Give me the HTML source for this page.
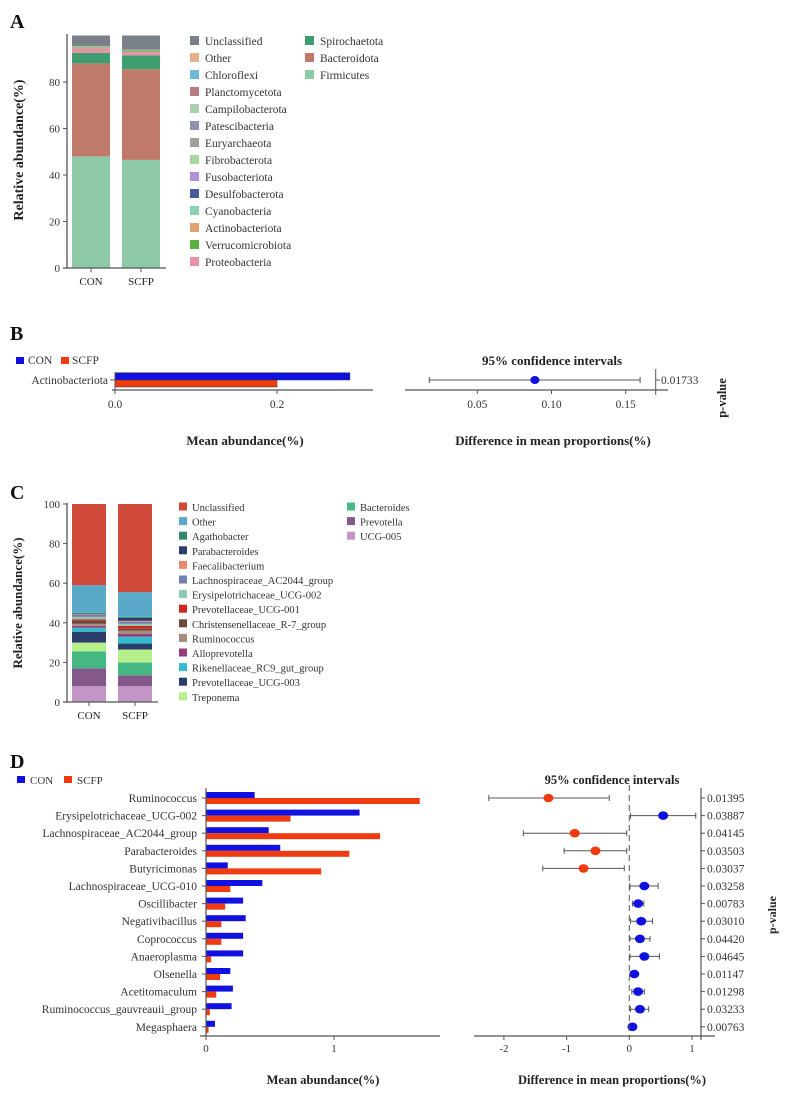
<!DOCTYPE html>
<html><head><meta charset="utf-8">
<style>
html,body{margin:0;padding:0;background:#fff;}
svg{display:block;font-family:"Liberation Serif",serif;}
</style></head>
<body>
<svg id="fig" width="787" height="1094" viewBox="0 0 787 1094" xmlns="http://www.w3.org/2000/svg"></svg>
<script>
// ---------- Panel A data ----------
const phylaNames = ["Firmicutes","Bacteroidota","Spirochaetota","Proteobacteria","Verrucomicrobiota","Euryarchaeota","Unclassified"];
const phylaColors = ["#8dc9a6","#c07a6a","#3e9e72","#e893a8","#6ab04c","#b0b8a8","#7a8088"];
const phylaCON = [48,40,4.5,2,0.3,0.7,4.5];
const phylaSCFP = [46.5,39,6,1.5,0.6,0.4,6];
const groupsA = ["CON","SCFP"];
const legendA1 = ["Unclassified","Other","Chloroflexi","Planctomycetota","Campilobacterota","Patescibacteria","Euryarchaeota","Fibrobacterota","Fusobacteriota","Desulfobacterota","Cyanobacteria","Actinobacteriota","Verrucomicrobiota","Proteobacteria"];
const legendA1Colors = ["#7a8088","#e8b088","#70b8d8","#b87a80","#a8d0b0","#9090b0","#a0a098","#a8d8a0","#b090d8","#4a5a98","#8dd0b0","#e0a070","#5ab040","#e893a8"];
const legendA2 = ["Spirochaetota","Bacteroidota","Firmicutes"];
const legendA2Colors = ["#3e9e72","#c07a6a","#8dc9a6"];
const ticksA = [0,20,40,60,80];

// ---------- Panel B data ----------
const phylumB = ["Actinobacteriota"];
const meanCONB = [0.29];
const meanSCFPB = [0.20];
const diffB = [0.0888];
const ciLowB = [0.0176];
const ciHighB = [0.1597];
const pB = ["0.01733"];
const ticksBL = [0.0,0.2];
const ticksBR = [0.05,0.10,0.15];

// ---------- Panel C data ----------
const genusNames = ["UCG-005","Prevotella","Bacteroides","Treponema","Prevotellaceae_UCG-003","Rikenellaceae_RC9_gut_group","Alloprevotella","Ruminococcus","Christensenellaceae_R-7_group","Prevotellaceae_UCG-001","Erysipelotrichaceae_UCG-002","Lachnospiraceae_AC2044_group","Faecalibacterium","Parabacteroides","Agathobacter","Other","Unclassified"];
const genusColors = ["#c394c6","#85588a","#45b883","#b5f08a","#2b3d6b","#33bccb","#953c7e","#a58b7b","#6a4a3a","#c8281e","#8ccab4","#7080b0","#e88a6a","#2a3f6e","#2f8a6a","#5aa9c9","#d04a3c"];
const genusCON = [8,9,8.5,4.5,5.5,2,1,1,1.5,0.8,1.2,1,0.3,0.3,0.4,14,41];
const genusSCFP = [8,5.5,6.5,6.5,3,3.5,1.5,1.5,1,1.5,1,1,0.5,1.5,0.5,12.5,44.5];
const legendC1 = ["Unclassified","Other","Agathobacter","Parabacteroides","Faecalibacterium","Lachnospiraceae_AC2044_group","Erysipelotrichaceae_UCG-002","Prevotellaceae_UCG-001","Christensenellaceae_R-7_group","Ruminococcus","Alloprevotella","Rikenellaceae_RC9_gut_group","Prevotellaceae_UCG-003","Treponema"];
const legendC2 = ["Bacteroides","Prevotella","UCG-005"];
const ticksC = [0,20,40,60,80,100];

// ---------- Panel D data ----------
const genusD = ["Ruminococcus","Erysipelotrichaceae_UCG-002","Lachnospiraceae_AC2044_group","Parabacteroides","Butyricimonas","Lachnospiraceae_UCG-010","Oscillibacter","Negativibacillus","Coprococcus","Anaeroplasma","Olsenella","Acetitomaculum","Ruminococcus_gauvreauii_group","Megasphaera"];
const meanCOND = [0.38,1.20,0.49,0.58,0.17,0.44,0.29,0.31,0.29,0.29,0.19,0.21,0.20,0.07];
const meanSCFPD = [1.67,0.66,1.36,1.12,0.90,0.19,0.15,0.12,0.12,0.04,0.11,0.08,0.03,0.02];
const diffD = [-1.29,0.54,-0.87,-0.54,-0.73,0.24,0.14,0.19,0.17,0.24,0.08,0.14,0.17,0.05];
const ciLowD = [-2.24,0.02,-1.69,-1.04,-1.38,0.01,0.05,0.02,0.01,0.01,0.02,0.04,0.02,0.00];
const ciHighD = [-0.32,1.06,-0.04,-0.04,-0.08,0.46,0.23,0.37,0.33,0.48,0.13,0.24,0.31,0.10];
const pD = ["0.01395","0.03887","0.04145","0.03503","0.03037","0.03258","0.00783","0.03010","0.04420","0.04645","0.01147","0.01298","0.03233","0.00763"];
const ticksDL = [0,1];
const ticksDR = [-2,-1,0,1];

const svg = document.getElementById('fig');
const NS = "http://www.w3.org/2000/svg";
function mk(tag, attrs, parent, text){
  const e = document.createElementNS(NS, tag);
  for (const k in attrs) e.setAttribute(k, attrs[k]);
  if (text !== undefined) e.textContent = text;
  (parent || svg).appendChild(e);
  return e;
}
function grp(name){
  const g = mk('g', {});
  
  
  return g;
}
const BLUE = "#1010e0", RED = "#f03a10", AX = "#555";

// Panel labels
[["A",10,28],["B",10,340],["C",10,499],["D",10,768]].forEach(([t,x,y])=>{
  const e = mk('text',{x:x,y:y,'font-size':20,'font-weight':'bold',fill:'#111'},svg,t);
  
  
});

// ================= Panel A =================
(function(){
  const g = grp('panel-a-stacked-bar');
  const y0 = 268, pxPer = 2.325;
  const yA = v => y0 - v*pxPer;
  const xs = [72,122], bw = 38;
  [phylaCON, phylaSCFP].forEach((vals, gi)=>{
    let acc = 0;
    vals.forEach((v,i)=>{
      const r = mk('rect',{x:xs[gi],y:yA(acc+v),width:bw,height:v*pxPer,fill:phylaColors[i]},g);
      
      
      acc += v;
    });
    const t = mk('text',{x:xs[gi]+bw/2,y:285,'font-size':11,'text-anchor':'middle',fill:'#222'},g,groupsA[gi]);
    
    
  });
  mk('line',{x1:67,y1:34,x2:67,y2:y0,stroke:AX,'stroke-width':1.3},g);
  mk('line',{x1:63,y1:y0,x2:166,y2:y0,stroke:AX,'stroke-width':1.3},g);
  ticksA.forEach(v=>{
    mk('line',{x1:63,y1:yA(v),x2:67,y2:yA(v),stroke:AX},g);
    const t = mk('text',{x:60,y:yA(v)+4,'font-size':11,'text-anchor':'end',fill:'#333'},g,v);
    
    
  });
  [91,141].forEach(x=>mk('line',{x1:x,y1:y0,x2:x,y2:y0+4,stroke:AX},g));
  const yt = mk('text',{x:0,y:0,'font-size':14,'font-weight':'bold','text-anchor':'middle',transform:'translate(23,150) rotate(-90)',fill:'#222'},g,'Relative abundance(%)');
  
  
  legendA1.forEach((n,i)=>{
    const y = 41 + i*17;
    const it = mk('g',{},g);
    
    
    mk('rect',{x:190,y:y-5,width:9,height:9,fill:legendA1Colors[i]},it);
    mk('text',{x:205,y:y+4,'font-size':11.5,fill:'#333'},it,n);
  });
  legendA2.forEach((n,i)=>{
    const y = 41 + i*17;
    const it = mk('g',{},g);
    
    
    mk('rect',{x:305,y:y-5,width:9,height:9,fill:legendA2Colors[i]},it);
    mk('text',{x:320,y:y+4,'font-size':11.5,fill:'#333'},it,n);
  });
})();

// ================= Panel B =================
(function(){
  const g = grp('panel-b-phylum-difference');
  const xL = v => 115 + v*810;
  const xR = v => 477.3 + (v-0.05)*1484;
  const leg = mk('g',{},g);
  
  
  mk('rect',{x:16,y:357,width:8,height:7,fill:BLUE},leg);
  mk('text',{x:28,y:364,'font-size':11.5,fill:'#333'},leg,'CON');
  mk('rect',{x:61,y:357,width:8,height:7,fill:RED},leg);
  mk('text',{x:72,y:364,'font-size':11.5,fill:'#333'},leg,'SCFP');
  phylumB.forEach((n,i)=>{
    const b1 = mk('rect',{x:xL(0),y:372.7,width:xL(meanCONB[i])-xL(0),height:7.3,fill:BLUE,stroke:'#333','stroke-width':0.5},g);
    
    
    const b2 = mk('rect',{x:xL(0),y:380,width:xL(meanSCFPB[i])-xL(0),height:7,fill:RED,stroke:'#333','stroke-width':0.5},g);
    
    
    mk('text',{x:108,y:384,'font-size':11.5,'text-anchor':'end',fill:'#333'},g,n);
    mk('line',{x1:110,y1:380,x2:115,y2:380,stroke:AX},g);
    mk('line',{x1:xR(ciLowB[i]),y1:380,x2:xR(ciHighB[i]),y2:380,stroke:'#555','stroke-width':1},g);
    mk('line',{x1:xR(ciLowB[i]),y1:377,x2:xR(ciLowB[i]),y2:383,stroke:'#555'},g);
    mk('line',{x1:xR(ciHighB[i]),y1:377,x2:xR(ciHighB[i]),y2:383,stroke:'#555'},g);
    const d = mk('ellipse',{cx:xR(diffB[i]),cy:380,rx:4.5,ry:4,fill:BLUE},g);
    
    
    mk('line',{x1:655.7,y1:380,x2:660,y2:380,stroke:'#555'},g);
    mk('text',{x:661,y:384,'font-size':11.5,fill:'#333'},g,pB[i]);
  });
  mk('line',{x1:115,y1:372,x2:115,y2:394,stroke:AX},g);
  mk('line',{x1:112,y1:390,x2:373,y2:390,stroke:AX,'stroke-width':1.2},g);
  ticksBL.forEach(v=>{
    mk('line',{x1:xL(v),y1:390,x2:xL(v),y2:394,stroke:AX},g);
    mk('text',{x:xL(v),y:408,'font-size':11.5,'text-anchor':'middle',fill:'#333'},g,v.toFixed(1));
  });
  mk('line',{x1:405,y1:390,x2:668,y2:390,stroke:AX,'stroke-width':1.2},g);
  mk('line',{x1:655.7,y1:369,x2:655.7,y2:395,stroke:AX},g);
  ticksBR.forEach(v=>{
    mk('line',{x1:xR(v),y1:390,x2:xR(v),y2:394,stroke:AX},g);
    mk('text',{x:xR(v),y:408,'font-size':11.5,'text-anchor':'middle',fill:'#333'},g,v.toFixed(2));
  });
  mk('text',{x:552,y:365,'font-size':13,'font-weight':'bold','text-anchor':'middle',fill:'#222'},g,'95% confidence intervals');
  mk('text',{x:0,y:0,'font-size':12.5,'font-weight':'bold','text-anchor':'middle',transform:'translate(726,398) rotate(-90)',fill:'#222'},g,'p-value');
  mk('text',{x:245,y:445,'font-size':13,'font-weight':'bold','text-anchor':'middle',fill:'#222'},g,'Mean abundance(%)');
  mk('text',{x:553,y:445,'font-size':13,'font-weight':'bold','text-anchor':'middle',fill:'#222'},g,'Difference in mean proportions(%)');
})();

// ================= Panel C =================
(function(){
  const g = grp('panel-c-genus-stacked-bar');
  const y0 = 702, pxPer = 1.98;
  const yC = v => y0 - v*pxPer;
  const xs = [72,118], bw = 34;
  [genusCON, genusSCFP].forEach((vals, gi)=>{
    let acc = 0;
    vals.forEach((v,i)=>{
      const r = mk('rect',{x:xs[gi],y:yC(acc+v),width:bw,height:v*pxPer,fill:genusColors[i]},g);
      
      
      acc += v;
    });
    mk('text',{x:xs[gi]+bw/2,y:719,'font-size':11,'text-anchor':'middle',fill:'#222'},g,groupsA[gi]);
    mk('line',{x1:xs[gi]+bw/2,y1:y0,x2:xs[gi]+bw/2,y2:y0+4,stroke:AX},g);
  });
  mk('line',{x1:67,y1:503,x2:67,y2:y0,stroke:AX,'stroke-width':1.3},g);
  mk('line',{x1:63,y1:y0,x2:158,y2:y0,stroke:AX,'stroke-width':1.3},g);
  ticksC.forEach(v=>{
    mk('line',{x1:63,y1:yC(v),x2:67,y2:yC(v),stroke:AX},g);
    mk('text',{x:60,y:yC(v)+4,'font-size':11,'text-anchor':'end',fill:'#333'},g,v);
  });
  mk('text',{x:0,y:0,'font-size':13,'font-weight':'bold','text-anchor':'middle',transform:'translate(22,603) rotate(-90)',fill:'#222'},g,'Relative abundance(%)');
  legendC1.forEach((n,i)=>{
    const y = 507 + i*14.6;
    const it = mk('g',{},g);
    
    
    mk('rect',{x:179,y:y-4.5,width:8,height:8,fill:genusColors[genusNames.indexOf(n)]},it);
    mk('text',{x:192,y:y+4,'font-size':10.5,fill:'#333'},it,n);
  });
  legendC2.forEach((n,i)=>{
    const y = 507 + i*14.6;
    const it = mk('g',{},g);
    
    
    mk('rect',{x:347,y:y-4.5,width:8,height:8,fill:genusColors[genusNames.indexOf(n)]},it);
    mk('text',{x:360,y:y+4,'font-size':10.5,fill:'#333'},it,n);
  });
})();

// ================= Panel D =================
(function(){
  const g = grp('panel-d-genus-difference');
  const xL = v => 206 + v*128;
  const xR = v => 629.3 + v*62.7;
  const rowY = i => 798 + i*17.6;
  const leg = mk('g',{},g);
  
  
  mk('rect',{x:17,y:776,width:8,height:7,fill:BLUE},leg);
  mk('text',{x:30,y:784,'font-size':11,fill:'#333'},leg,'CON');
  mk('rect',{x:64,y:776,width:8,height:7,fill:RED},leg);
  mk('text',{x:77,y:784,'font-size':11,fill:'#333'},leg,'SCFP');
  genusD.forEach((n,i)=>{
    const y = rowY(i);
    const b1 = mk('rect',{x:xL(0),y:y-6,width:xL(meanCOND[i])-xL(0),height:6,fill:BLUE},g);
    
    
    const b2 = mk('rect',{x:xL(0),y:y,width:xL(meanSCFPD[i])-xL(0),height:6,fill:RED},g);
    
    
    mk('line',{x1:202,y1:y,x2:206,y2:y,stroke:AX},g);
    mk('text',{x:197,y:y+4,'font-size':11.5,'text-anchor':'end',fill:'#333'},g,n);
    const c = diffD[i] < 0 ? RED : BLUE;
    mk('line',{x1:xR(ciLowD[i]),y1:y,x2:xR(ciHighD[i]),y2:y,stroke:'#555'},g);
    mk('line',{x1:xR(ciLowD[i]),y1:y-3,x2:xR(ciLowD[i]),y2:y+3,stroke:'#555'},g);
    mk('line',{x1:xR(ciHighD[i]),y1:y-3,x2:xR(ciHighD[i]),y2:y+3,stroke:'#555'},g);
    const d = mk('ellipse',{cx:xR(diffD[i]),cy:y,rx:5,ry:4.3,fill:c},g);
    
    
    mk('line',{x1:701,y1:y,x2:705,y2:y,stroke:'#555'},g);
    const p = mk('text',{x:707,y:y+4,'font-size':11.5,fill:'#333'},g,pD[i]);
    
    
  });
  mk('line',{x1:206,y1:788,x2:206,y2:1036,stroke:AX,'stroke-width':1.2},g);
  mk('line',{x1:200,y1:1036,x2:440,y2:1036,stroke:AX,'stroke-width':1.2},g);
  ticksDL.forEach(v=>{
    mk('line',{x1:xL(v),y1:1036,x2:xL(v),y2:1040,stroke:AX},g);
    mk('text',{x:xL(v),y:1052,'font-size':11,'text-anchor':'middle',fill:'#333'},g,v);
  });
  mk('line',{x1:xR(0),y1:785,x2:xR(0),y2:1036,stroke:'#555','stroke-dasharray':'6,4'},g);
  mk('line',{x1:474,y1:1036,x2:715,y2:1036,stroke:AX,'stroke-width':1.2},g);
  mk('line',{x1:701,y1:788,x2:701,y2:1040,stroke:AX,'stroke-width':1.2},g);
  ticksDR.forEach(v=>{
    mk('line',{x1:xR(v),y1:1036,x2:xR(v),y2:1040,stroke:AX},g);
    mk('text',{x:xR(v),y:1052,'font-size':11,'text-anchor':'middle',fill:'#333'},g,v);
  });
  mk('text',{x:612,y:784,'font-size':12.5,'font-weight':'bold','text-anchor':'middle',fill:'#222'},g,'95% confidence intervals');
  mk('text',{x:0,y:0,'font-size':12,'font-weight':'bold','text-anchor':'middle',transform:'translate(776,915) rotate(-90)',fill:'#222'},g,'p-value');
  mk('text',{x:323,y:1084,'font-size':12.5,'font-weight':'bold','text-anchor':'middle',fill:'#222'},g,'Mean abundance(%)');
  mk('text',{x:612,y:1084,'font-size':12.5,'font-weight':'bold','text-anchor':'middle',fill:'#222'},g,'Difference in mean proportions(%)');
})();
</script>
</body></html>
